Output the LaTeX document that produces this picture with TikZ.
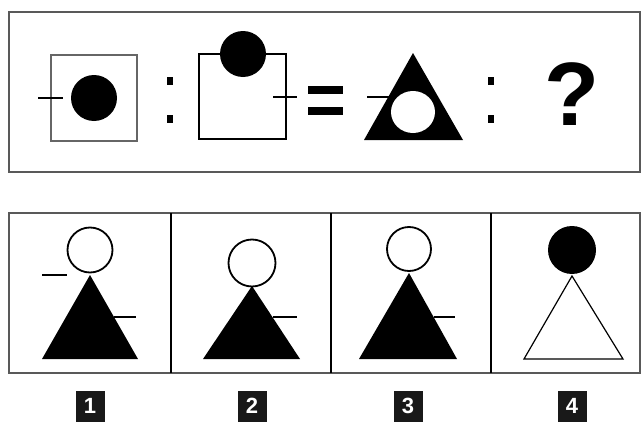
\documentclass[tikz,border=0pt]{standalone}
\usepackage{fontspec}
\setmainfont{Liberation Sans}
\begin{document}
\begin{tikzpicture}[x=1pt,y=-1pt,
  frame/.style={draw=black!65,line width=2pt},
  thin/.style={draw=black,line width=1.3pt},
  ring/.style={draw=black,line width=1.8pt,fill=white},
  tick/.style={draw=black,line width=1.8pt},
  dot/.style={fill=black,minimum width=6pt,minimum height=8pt,inner sep=0pt},
  numbox/.style={fill=black!90,text=white,font=\bfseries\fontsize{22}{22}\selectfont,minimum width=29pt,minimum height=31pt,inner sep=0pt}]
\useasboundingbox (0,0) rectangle (641,423);

% Frames of the question row and of the answer row
\draw [frame] (9,12) rectangle (640,172);
\draw [frame] (9,213) rectangle (640,373);
\foreach \x in {171,331,491}
  \draw [line width=1.3pt] (\x,213)--(\x,373);

% Question row
\draw [draw=black!60,line width=2.2pt] (51,55) rectangle (137,141);
\fill (94,98) circle (23);
\draw [tick] (38,98)--(63,98);

\foreach \y/\n in {81/a,119/b}
  \node [dot] (colA\n) at (170,\y) {};

\draw [thin] (199,54) rectangle (286,139);
\fill (243,54) circle (23);
\draw [tick] (273,97)--(297,97);

\fill (308,86) rectangle (343,94);
\fill (308,107) rectangle (343,115);

\coordinate (qa) at (413,53);
\coordinate (qb) at (364,140);
\coordinate (qc) at (463,140);
\fill (qa)--(qb)--(qc)--cycle;
\fill [white] (413,112) ellipse (22 and 21);
\draw [tick] (367,97)--(390,97);

\foreach \y/\n in {81/a,119/b}
  \node [dot] (colB\n) at (491,\y) {};

\node (ask) at (572,94) {\bfseries\fontsize{90}{90}\selectfont ?};

% Answer row
\coordinate (a1) at (90,275);
\fill (a1)--(42,359)--(138,359)--cycle;
\draw [ring] (90,250) circle (22.5);
\draw [tick] (42,275)--(67,275);
\draw [tick] (114,317)--(136,317);

\coordinate (a2) at (252,286);
\fill (a2)--(203,359)--(300,359)--cycle;
\draw [ring] (252,263) circle (23.5);
\draw [tick] (273,317)--(297,317);

\coordinate (a3) at (409,273);
\fill (a3)--(359,359)--(457,359)--cycle;
\draw [ring] (409,249) circle (22);
\draw [tick] (434,317)--(455,317);

\coordinate (a4) at (572,276);
\draw [line width=1.2pt] (a4)--(524,359)--(623,359)--cycle;
\fill (572,250) circle (24);

% Numbers under the answers
\foreach \x/\n in {90/1,252/2,408/3,572/4}
  \node [numbox] (num\n) at (\x,406) {\n};
\end{tikzpicture}
\end{document}
